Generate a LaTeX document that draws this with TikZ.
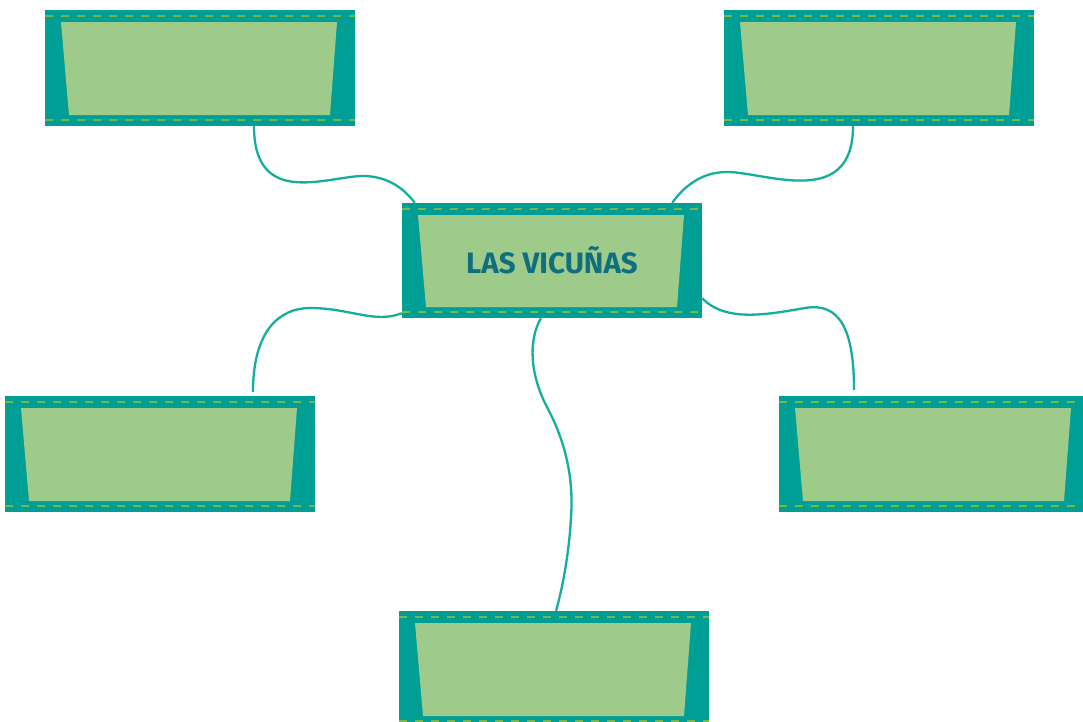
\documentclass[tikz,border=0pt]{standalone}
\usepackage{fontspec}
\newfontfamily\titlefont{Fira Sans}
\definecolor{teal0}{HTML}{009F96}
\definecolor{leaf}{HTML}{9ECB89}
\definecolor{stitchc}{HTML}{7AB648}
\definecolor{wirec}{HTML}{13AE9C}
\definecolor{ink}{HTML}{0F6F7E}
\tikzset{
  card/.style={fill=teal0, draw=none, inner sep=0pt, minimum width=310pt, minimum height=116pt,
    path picture={
      \fill[leaf] ([shift={(16pt,-12pt)}]path picture bounding box.north west)
        -- ([shift={(-18pt,-12pt)}]path picture bounding box.north east)
        -- ([shift={(-25pt,11pt)}]path picture bounding box.south east)
        -- ([shift={(24pt,11pt)}]path picture bounding box.south west) -- cycle;
      \draw[stitch] ([yshift=-6pt]path picture bounding box.north west) -- ([yshift=-6pt]path picture bounding box.north east);
      \draw[stitch] ([yshift=6pt]path picture bounding box.south west) -- ([yshift=6pt]path picture bounding box.south east);
    }},
  stitch/.style={draw=stitchc, line width=2.6pt, dash pattern=on 8pt off 8pt},
  wire/.style={draw=wirec, line width=2.3pt},
  title/.style={text=ink, font=\titlefont\bfseries\fontsize{29.5}{33}\selectfont}
}
\begin{document}
\begin{tikzpicture}[x=1pt,y=-1pt]
  \useasboundingbox (0,0) rectangle (1083,721);
  \clip (0,0) rectangle (1083,721);
  \node[card] (tl) at (200,68) {};
  \node[card] (tr) at (879,68) {};
  \node[card, minimum width=300pt, minimum height=115pt, title] (c) at (552,260.5) {\raisebox{-2pt}{LAS VICUÑAS}};
  \node[card] (ml) at (160,454) {};
  \node[card] (mr) at (934,454) {};
  \node[card] (b) at (554,669) {};

  \draw[wire] ([xshift=54pt]tl.south) .. controls (254,210) and (330,175) .. (365,176)
     .. controls (390,177) and (405,190) .. ([xshift=13pt]c.north west);
  \draw[wire] ([xshift=-26pt]tr.south) .. controls (853,210) and (765,172) .. (727,172)
     .. controls (700,172) and (683,188) .. ([xshift=-30pt]c.north east);
  \draw[wire] ([xshift=93pt,yshift=4pt]ml.north) .. controls (253,330) and (280,308) .. (310,308)
     .. controls (350,308) and (375,324) .. ([yshift=5pt]c.south west);
  \draw[wire] ([yshift=20pt]c.south east) .. controls (725,322) and (765,315) .. (805,308)
     .. controls (840,302) and (854,330) .. ([xshift=-80pt,yshift=6pt]mr.north);
  \draw[wire] ([xshift=-11pt]c.south) .. controls (528,340) and (530,375) .. (547,407)
     .. controls (564,439) and (574,475) .. (571,517)
     .. controls (569,555) and (562,590) .. ([xshift=2pt]b.north);
\end{tikzpicture}
\end{document}
